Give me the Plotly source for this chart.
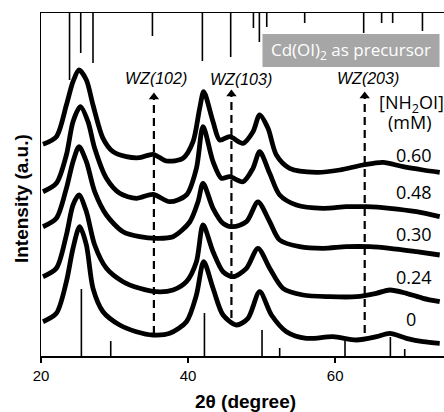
import plotly.graph_objects as go

# ---------------- data (2theta in degrees, intensity in arbitrary units) ----------------
tt_060 = [20.27, 22.09, 23.45, 24.35, 25.17, 26.17, 27.07, 28.43, 29.79, 31.61, 33.42, 35.23, 37.05,
          39.31, 40.67, 41.58, 42.12, 43.39, 44.30, 45.66, 47.46, 48.82, 49.73, 50.86, 52.00, 53.81,
          57.44, 60.61, 63.78, 66.50, 69.22, 71.94, 74.21]
int_060 = [211.7, 219.3, 251.0, 274.3, 286.0, 276.0, 251.0, 217.7, 204.3, 199.3, 198.3, 201.7, 195.0,
           197.7, 214.3, 248.0, 264.3, 234.3, 216.0, 219.3, 212.7, 224.3, 241.0, 227.7, 201.0, 187.7,
           183.7, 186.0, 191.0, 193.7, 189.3, 186.0, 183.7]

tt_048 = [20.27, 22.09, 23.45, 24.35, 25.36, 26.39, 27.30, 28.89, 30.70, 32.97, 35.23, 37.50, 39.77,
          41.13, 42.03, 43.39, 44.53, 45.66, 47.46, 48.82, 49.73, 51.09, 52.45, 54.72, 58.34, 61.52,
          64.24, 67.41, 71.04, 74.21]
int_048 = [164.3, 172.7, 201.0, 234.3, 249.3, 234.3, 207.7, 177.7, 162.7, 157.7, 161.7, 154.3, 161.0,
           187.7, 229.3, 194.3, 177.7, 179.3, 174.3, 187.7, 204.3, 182.7, 161.0, 151.0, 147.7, 149.3,
           149.3, 147.7, 144.3, 139.3]

tt_030 = [20.27, 22.09, 23.45, 24.35, 25.17, 26.17, 27.30, 28.89, 31.15, 33.42, 35.69, 37.95, 40.22,
          41.35, 42.03, 43.39, 44.75, 46.10, 47.93, 49.50, 51.09, 52.45, 55.17, 58.34, 61.52, 64.69,
          67.41, 71.04, 74.21]
int_030 = [129.3, 137.7, 167.7, 194.3, 209.3, 194.3, 164.3, 141.0, 124.3, 119.3, 117.7, 119.3, 134.0,
           154.3, 172.7, 147.7, 132.7, 129.3, 134.3, 154.0, 134.3, 116.0, 109.3, 107.7, 109.3, 109.3,
           107.7, 104.3, 101.0]

tt_024 = [20.27, 22.09, 23.45, 24.35, 25.17, 26.17, 27.30, 28.89, 31.15, 33.42, 35.69, 37.95, 39.77,
          41.13, 42.03, 43.39, 44.75, 46.10, 47.93, 49.50, 51.09, 52.90, 55.62, 59.25, 62.88, 65.60,
          67.41, 69.68, 71.94, 74.21]
int_024 = [79.3, 87.7, 121.0, 151.0, 161.0, 144.3, 111.0, 87.7, 74.3, 67.7, 64.3, 66.0, 74.3,
           94.3, 131.0, 104.3, 84.3, 79.3, 87.7, 107.7, 87.7, 67.7, 61.0, 59.3, 59.3, 62.7,
           66.0, 62.7, 57.7, 54.3]

tt_000 = [20.27, 22.09, 23.45, 24.35, 25.26, 26.17, 27.07, 28.43, 30.70, 32.97, 35.23, 37.50, 39.77,
          41.13, 42.12, 43.39, 44.75, 46.57, 48.14, 49.73, 51.33, 53.37, 56.08, 59.70, 62.88, 65.60,
          67.41, 69.68, 71.94, 74.21]
int_000 = [34.3, 42.7, 74.3, 107.7, 129.3, 111.0, 67.7, 44.3, 31.0, 24.3, 21.0, 22.7, 34.3,
           61.0, 94.3, 67.7, 41.0, 31.0, 37.7, 64.3, 41.0, 24.3, 17.7, 19.3, 16.0, 19.3,
           22.7, 17.7, 14.3, 12.7]

conc_labels = ["0.60", "0.48", "0.30", "0.24", "0"]
conc_label_y = [201, 164, 122, 79, 37]

# reference stick patterns
top_ref_pos = [23.88, 25.40, 27.07, 35.15, 41.94, 45.79, 48.88, 49.69, 50.69, 55.85, 63.87, 66.31, 67.81, 71.86]
top_ref_len = [67, 40, 50, 23, 48, 44, 15, 29, 14, 10, 20, 10, 10, 18]
bot_ref_pos = [25.49, 29.48, 42.22, 50.05, 52.45, 61.33, 67.50, 69.45]
bot_ref_len = [67, 15, 43, 26, 8, 15, 19, 7]

# WZ markers
wz_labels = ["WZ(102)", "WZ(103)", "WZ(203)"]
wz_pos = [35.35, 45.89, 64.01]
wz_tip = [263, 266, 264]
wz_base = [22, 38, 23]
wz_label_x = [35.69, 47.15, 64.42]
wz_label_y = [278, 277, 278]

X_MAX = 74.79
Y_TOP = 343

fig = go.Figure()

# top hanging reference lines
xs, ys = [], []
for p, L in zip(top_ref_pos, top_ref_len):
    xs += [p, p, None]
    ys += [Y_TOP, Y_TOP - L, None]
fig.add_trace(go.Scatter(x=xs, y=ys, mode="lines", line=dict(color="black", width=1.6),
                         hoverinfo="skip", showlegend=False, cliponaxis=False))
# bottom reference lines
xs, ys = [], []
for p, L in zip(bot_ref_pos, bot_ref_len):
    xs += [p, p, None]
    ys += [0, L, None]
fig.add_trace(go.Scatter(x=xs, y=ys, mode="lines", line=dict(color="black", width=1.6),
                         hoverinfo="skip", showlegend=False, cliponaxis=False))

# XRD patterns
for tt, ii in [(tt_060, int_060), (tt_048, int_048), (tt_030, int_030), (tt_024, int_024), (tt_000, int_000)]:
    fig.add_trace(go.Scatter(x=tt, y=ii, mode="lines",
                             line=dict(color="black", width=4.8, shape="spline", smoothing=0.8),
                             showlegend=False, hoverinfo="skip"))

# dashed arrows
for p, tip, base in zip(wz_pos, wz_tip, wz_base):
    fig.add_trace(go.Scatter(x=[p, p], y=[base, tip - 6], mode="lines",
                             line=dict(color="black", width=2.2, dash="8px,5px"),
                             showlegend=False, hoverinfo="skip"))
    fig.add_trace(go.Scatter(x=[p], y=[tip - 4], mode="markers",
                             marker=dict(symbol="triangle-up", size=9, color="black"),
                             showlegend=False, hoverinfo="skip"))

annotations = []
for lab, lx, ly in zip(wz_labels, wz_label_x, wz_label_y):
    annotations.append(dict(x=lx, y=ly, xref="x", yref="y", text="<i>" + lab + "</i>", showarrow=False,
                            font=dict(family="Liberation Sans, Arial", size=16, color="black"),
                            xanchor="center", yanchor="middle"))

# precursor box
fig.add_shape(type="rect", xref="x", yref="y", x0=50.11, x1=74.18, y0=289, y1=322,
              fillcolor="#a6a6a6", line=dict(width=0), layer="above")
annotations.append(dict(x=62.17, y=305.5, xref="x", yref="y", text="Cd(OI)<sub>2</sub> as precursor",
                        showarrow=False, font=dict(family="Open Sans", size=17, color="white"),
                        xanchor="center", yanchor="middle"))

annotations.append(dict(x=70.40, y=253, xref="x", yref="y", text="[NH<sub>2</sub>OI]", showarrow=False,
                        font=dict(family="Open Sans", size=18, color="black"), xanchor="center", yanchor="middle"))
annotations.append(dict(x=70.13, y=234, xref="x", yref="y", text="(mM)", showarrow=False,
                        font=dict(family="Open Sans", size=18, color="black"), xanchor="center", yanchor="middle"))
for lab, ly in zip(conc_labels, conc_label_y):
    annotations.append(dict(x=70.67 if lab != "0" else 70.27, y=ly, xref="x", yref="y", text=lab,
                            showarrow=False, font=dict(family="Open Sans", size=18, color="black"),
                            xanchor="center", yanchor="middle"))

# axis titles
annotations.append(dict(x=-0.0496, y=157, xref="paper", yref="y", text="<b>Intensity (a.u.)</b>",
                        textangle=-90, showarrow=False,
                        font=dict(family="Liberation Sans, Arial", size=19, color="black"),
                        xanchor="center", yanchor="middle"))
annotations.append(dict(x=47.80, y=-0.1332, xref="x", yref="paper", text="<b>2θ (degree)</b>",
                        showarrow=False, font=dict(family="Liberation Sans, Arial", size=19, color="black"),
                        xanchor="center", yanchor="middle"))

fig.update_layout(
    width=444, height=412,
    margin=dict(l=41, r=0, t=13, b=56),
    paper_bgcolor="white", plot_bgcolor="white",
    annotations=annotations,
    xaxis=dict(range=[20, X_MAX], tickvals=[20, 40, 60], ticks="outside", ticklen=5, tickwidth=1.5,
               tickcolor="black", showline=True, linecolor="black", linewidth=1.5, mirror=True,
               showgrid=False, zeroline=False,
               tickfont=dict(family="Liberation Sans, Arial", size=15, color="black")),
    yaxis=dict(range=[0, Y_TOP], showticklabels=False, ticks="", showline=True, linecolor="black",
               linewidth=1.5, showgrid=False, zeroline=False),
)

fig.write_html("out.html", config={"displayModeBar": False, "staticPlot": True},
               post_script="document.body.style.margin='0px';document.body.style.overflow='hidden';")
